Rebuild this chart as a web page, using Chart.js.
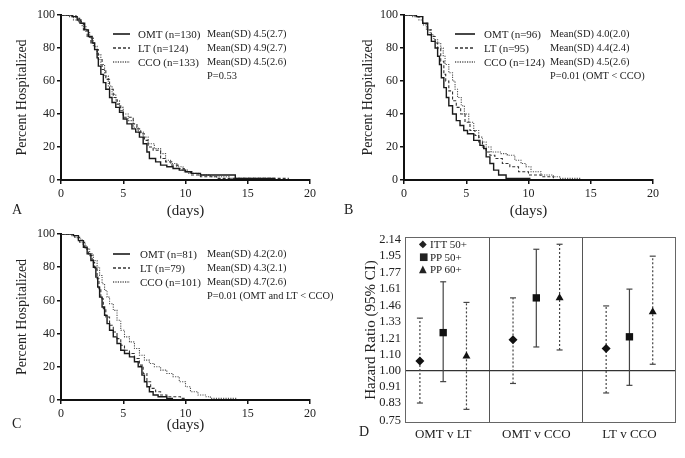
<!DOCTYPE html>
<html>
<head>
<meta charset="utf-8">
<script src="https://cdn.jsdelivr.net/npm/chart.js@4/dist/chart.umd.min.js"></script>
<style>
  body { margin: 0; background: #fff; }
  #page { position: relative; width: 685px; height: 458px; overflow: hidden; font-family: 'Liberation Serif', serif; color: #222; }
  .panel { position: absolute; }
  .txt { position: absolute; white-space: nowrap; line-height: 14px; font-size: 11px; }
  .letter { position: absolute; font-size: 14px; line-height: 14px; }
  .sample { position: absolute; }
</style>
</head>
<body>
<div id="page">
  <div class="panel" style="left:0;top:0;width:340px;height:220px"><canvas id="chartA"></canvas></div>
  <div class="panel" style="left:340px;top:0;width:345px;height:220px"><canvas id="chartB"></canvas></div>
  <div class="panel" style="left:0;top:220px;width:340px;height:220px"><canvas id="chartC"></canvas></div>
  <div class="panel" style="left:340px;top:220px;width:345px;height:238px"><canvas id="chartD"></canvas></div>
</div>
<script>
const FONT = 'Liberation Serif';

// Kaplan-Meier style curves: days and percent still hospitalized
const groups = ['OMT', 'LT', 'CCO'];
const dayTicks = [0, 5, 10, 15, 20];
const pctTicks = [0, 20, 40, 60, 80, 100];

// panel A
const aOmtDays = [0, 0.9, 1.3, 1.6, 1.9, 2.2, 2.5, 2.7, 2.9, 3.0, 3.2, 3.4, 3.6, 3.9, 4.1, 4.4, 4.7, 5.0, 5.3, 5.7, 6.0, 6.3, 6.6, 6.9, 7.1, 7.6, 8.0, 8.5, 9.0, 9.5, 10.0, 10.5, 11.2, 14.0, 17.2];
const aOmtPct  = [100, 99, 97, 95, 91, 87, 83, 79, 74, 69, 64, 59, 55, 50, 47, 44, 41, 37, 34, 31, 29, 26, 22, 17, 13, 11, 9, 8, 7, 6, 5, 4, 3, 1, 1];
const aLtDays  = [0, 1.2, 1.5, 1.8, 2.1, 2.4, 2.7, 3.0, 3.3, 3.6, 3.9, 4.2, 4.5, 4.8, 5.0, 5.8, 6.1, 6.4, 6.7, 7.0, 7.4, 8.0, 8.4, 8.9, 9.4, 9.9, 10.4, 11.2, 12.5, 18.3];
const aLtPct   = [100, 98, 95, 91, 87, 83, 79, 73, 67, 61, 55, 50, 46, 42, 38, 34, 31, 28, 24, 20, 18, 13, 11, 9, 7, 5, 3, 2, 1, 1];
const aCcoDays = [0, 0.6, 1.0, 1.4, 1.7, 2.0, 2.3, 2.6, 2.9, 3.2, 3.5, 3.8, 4.1, 4.4, 4.7, 5.0, 5.4, 5.8, 6.2, 6.6, 7.0, 7.5, 8.0, 8.4, 8.8, 9.3, 9.8, 10.2, 11.0, 12.0, 13.5, 17.0];
const aCcoPct  = [100, 99, 97, 96, 93, 90, 86, 81, 76, 70, 63, 57, 52, 48, 44, 40, 36, 32, 29, 26, 22, 19, 16, 12, 10, 8, 6, 4, 3, 2, 1, 1];

// panel B
const bOmtDays = [0, 1.0, 1.5, 1.9, 2.2, 2.5, 2.7, 2.85, 3.0, 3.2, 3.4, 3.6, 3.9, 4.2, 4.5, 4.8, 5.1, 5.6, 6.1, 6.4, 6.6, 6.9, 7.2, 7.6, 8.2, 10.1];
const bOmtPct  = [100, 99, 95, 88, 84, 80, 75, 70, 62, 56, 50, 45, 40, 36, 33, 30, 28, 24, 21, 19, 14, 10, 6, 3, 1, 0];
const bLtDays  = [0, 1.1, 1.5, 1.9, 2.2, 2.5, 2.7, 2.95, 3.2, 3.35, 3.6, 3.9, 4.2, 4.55, 4.9, 5.3, 5.7, 6.0, 6.3, 6.6, 6.9, 7.3, 7.9, 8.5, 9.2, 10.0, 11.0, 12.0];
const bLtPct   = [100, 99, 95, 91, 87, 83, 80, 72, 64, 60, 54, 48, 44, 40, 35, 30, 27, 23, 20, 17, 15, 13, 10, 8, 5, 3, 2, 1];
const bCcoDays = [0, 0.7, 1.2, 1.5, 1.8, 2.1, 2.4, 2.7, 2.95, 3.15, 3.3, 3.6, 3.9, 4.1, 4.3, 4.6, 4.85, 5.2, 5.6, 6.0, 6.3, 6.6, 7.0, 7.8, 8.3, 8.9, 9.4, 9.8, 10.2, 11.0, 12.0, 12.5, 14.2];
const bCcoPct  = [100, 99, 97, 94, 91, 88, 85, 83, 80, 75, 70, 65, 60, 55, 50, 45, 40, 35, 30, 26, 23, 20, 17, 16, 15, 12, 10, 8, 5, 3, 2, 1, 1];

// panel C
const cOmtDays = [0, 1.0, 1.4, 1.8, 2.1, 2.4, 2.6, 2.8, 2.95, 3.1, 3.3, 3.5, 3.7, 3.9, 4.2, 4.5, 4.8, 5.1, 5.5, 5.9, 6.2, 6.5, 6.7, 6.9, 7.1, 7.4, 7.8, 8.5, 9.0];
const cOmtPct  = [100, 99, 96, 92, 88, 84, 80, 74, 68, 62, 56, 51, 46, 42, 38, 34, 30, 28, 26, 23, 20, 15, 11, 8, 5, 3, 2, 1, 1];
const cLtDays  = [0, 1.1, 1.5, 1.9, 2.2, 2.5, 2.7, 2.9, 3.05, 3.2, 3.4, 3.6, 3.9, 4.2, 4.5, 4.8, 5.1, 5.5, 5.9, 6.3, 6.6, 6.9, 7.2, 7.6, 8.0, 8.5, 9.0, 9.6, 10.0];
const cLtPct   = [100, 98, 95, 91, 87, 83, 79, 73, 67, 61, 55, 50, 45, 41, 37, 33, 30, 28, 25, 21, 16, 11, 7, 5, 3, 2, 2, 1, 1];
const cCcoDays = [0, 0.8, 1.3, 1.7, 2.0, 2.3, 2.6, 2.9, 3.1, 3.3, 3.5, 3.7, 3.9, 4.2, 4.5, 4.8, 5.1, 5.5, 5.9, 6.3, 6.7, 7.1, 7.5, 8.0, 8.5, 9.0, 9.5, 10.0, 10.4, 11.0, 11.6, 12.0, 14.1];
const cCcoPct  = [100, 99, 97, 94, 91, 88, 84, 80, 75, 70, 66, 62, 58, 54, 48, 42, 38, 35, 31, 27, 24, 22, 20, 18, 16, 14, 11, 8, 5, 3, 2, 1, 1];

// legend texts
const aN = [130, 124, 133], aMean = ['4.5(2.7)', '4.9(2.7)', '4.5(2.6)'], aP = 'P=0.53';
const bN = [96, 95, 124],   bMean = ['4.0(2.0)', '4.4(2.4)', '4.5(2.6)'], bP = 'P=0.01 (OMT < CCO)';
const cN = [81, 79, 101],   cMean = ['4.2(2.0)', '4.3(2.1)', '4.7(2.6)'], cP = 'P=0.01 (OMT and LT < CCO)';

// panel D: hazard ratios with 95% CI
const comparisons = ['OMT v LT', 'OMT v CCO', 'LT v CCO'];
const hrTicks = [0.75, 0.83, 0.91, 1.00, 1.10, 1.21, 1.33, 1.46, 1.61, 1.77, 1.95, 2.14];
const hrNames = ['ITT 50+', 'PP 50+', 'PP 60+'];
const itt50 = [1.06, 1.20, 1.14], itt50Lo = [0.83, 0.93, 0.88], itt50Hi = [1.36, 1.53, 1.46];
const pp50  = [1.25, 1.53, 1.22], pp50Lo  = [0.94, 1.15, 0.92], pp50Hi  = [1.68, 2.03, 1.61];
const pp60  = [1.09, 1.53, 1.41], pp60Lo  = [0.80, 1.13, 1.04], pp60Hi  = [1.49, 2.09, 1.95];

const lineStyles = [
  { color: '#1a1a1a', width: 1.4, dash: [] },
  { color: '#333', width: 1.1, dash: [3, 2] },
  { color: '#555', width: 1.1, dash: [1.2, 1.2] }
];

function pts(days, pct) {
  return days.map((d, i) => ({ x: d, y: pct[i] }));
}

function kmChart(id, curves, cfg) {
  const axisBase = {
    grid: { drawOnChartArea: false, tickLength: 4, color: '#111', lineWidth: 1.5 },
    border: { color: '#111', width: 2 }
  };
  new Chart(document.getElementById(id), {
    type: 'line',
    data: {
      datasets: curves.map((c, i) => ({
        label: groups[i],
        data: pts(c[0], c[1]),
        stepped: true,
        borderColor: lineStyles[i].color,
        borderWidth: lineStyles[i].width,
        borderDash: lineStyles[i].dash,
        pointRadius: 0,
        fill: false
      }))
    },
    options: {
      responsive: true,
      maintainAspectRatio: false,
      animation: false,
      layout: { padding: cfg.pad },
      plugins: { legend: { display: false }, tooltip: { enabled: false } },
      scales: {
        x: {
          ...axisBase,
          type: 'linear', min: 0, max: 20,
          afterBuildTicks: s => { s.ticks = dayTicks.map(v => ({ value: v })); },
          ticks: { font: { family: FONT, size: 12 }, color: '#222', padding: 3, maxRotation: 0 },
          title: { display: true, text: '(days)', color: '#222', font: { family: FONT, size: 15 }, padding: { top: 0, bottom: cfg.xTitlePad } },
          afterFit: s => { s.height = 40; }
        },
        y: {
          ...axisBase,
          min: 0, max: 100,
          afterBuildTicks: s => { s.ticks = pctTicks.map(v => ({ value: v })); },
          ticks: { font: { family: FONT, size: 12 }, color: '#222', padding: 2 },
          title: { display: true, text: 'Percent Hospitalized', color: '#222', font: { family: FONT, size: 14 }, padding: { top: cfg.yTitlePad, bottom: 0 } },
          afterFit: s => { s.width = cfg.yw; }
        }
      }
    }
  });
}

kmChart('chartA', [[aOmtDays, aOmtPct], [aLtDays, aLtPct], [aCcoDays, aCcoPct]],
  { pad: { top: 15, right: 30, left: 0, bottom: 0 }, yw: 61, yTitlePad: 13.6, xTitlePad: 0 });
kmChart('chartB', [[bOmtDays, bOmtPct], [bLtDays, bLtPct], [bCcoDays, bCcoPct]],
  { pad: { top: 15, right: 32, left: 0, bottom: 0 }, yw: 64, yTitlePad: 19.6, xTitlePad: 0 });
kmChart('chartC', [[cOmtDays, cOmtPct], [cLtDays, cLtPct], [cCcoDays, cCcoPct]],
  { pad: { top: 14, right: 30, left: 0, bottom: 0 }, yw: 61, yTitlePad: 13.6, xTitlePad: 6 });

// hazard ratio panel
const hrMin = 0.739, hrMax = 2.18;
const hrSeries = [
  { hr: itt50, lo: itt50Lo, hi: itt50Hi, style: 'rectRot', radius: 4.5, dash: [2, 2], off: 0.25 },
  { hr: pp50,  lo: pp50Lo,  hi: pp50Hi,  style: 'rect',    radius: 5.2, dash: [],     off: 0.5 },
  { hr: pp60,  lo: pp60Lo,  hi: pp60Hi,  style: 'triangle', radius: 4.6, dash: [2, 2], off: 0.75 }
];

const markerSets = hrSeries.map((s, k) => ({
  label: hrNames[k],
  data: comparisons.map((c, i) => ({ x: i + s.off, y: s.hr[i] })),
  showLine: false,
  pointStyle: s.style,
  pointRadius: s.radius,
  backgroundColor: '#111',
  borderColor: '#111',
  borderWidth: 0
}));
const ciSets = [];
hrSeries.forEach(s => {
  comparisons.forEach((c, i) => {
    ciSets.push({
      data: [{ x: i + s.off, y: s.lo[i] }, { x: i + s.off, y: s.hi[i] }],
      borderColor: '#444',
      borderWidth: 1.2,
      borderDash: s.dash,
      pointStyle: 'line',
      pointRadius: 3,
      pointBorderColor: '#444',
      pointBorderWidth: 1.2
    });
  });
});

const framePlugin = {
  id: 'frame',
  afterDatasetsDraw(chart) {
    const { ctx, chartArea: a } = chart;
    ctx.save();
    ctx.strokeStyle = '#666';
    ctx.lineWidth = 1;
    ctx.strokeRect(a.left + 0.5, a.top + 0.5, a.right - a.left - 1, a.bottom - a.top - 1);
    ctx.restore();
  }
};

new Chart(document.getElementById('chartD'), {
  type: 'line',
  data: { datasets: [...markerSets, ...ciSets] },
  options: {
    responsive: true,
    maintainAspectRatio: false,
    animation: false,
    layout: { padding: { top: 17, right: 9, left: 0, bottom: 0 } },
    plugins: { legend: { display: false }, tooltip: { enabled: false } },
    scales: {
      x: {
        type: 'linear', min: 0.09, max: 3,
        afterBuildTicks: s => { s.ticks = [0.5, 1, 1.5, 2, 2.5].map(v => ({ value: v })); },
        ticks: {
          font: { family: FONT, size: 13 }, color: '#222', padding: 4, maxRotation: 0, autoSkip: false,
          callback: v => Number.isInteger(v) ? '' : comparisons[Math.floor(v)]
        },
        grid: { drawTicks: false, lineWidth: 1, color: c => (c.tick && Number.isInteger(c.tick.value)) ? '#555' : 'transparent' },
        border: { display: false },
        afterFit: s => { s.height = 35; }
      },
      y: {
        type: 'logarithmic', min: hrMin, max: hrMax, bounds: 'data',
        afterBuildTicks: s => { s.ticks = hrTicks.map(v => ({ value: v })); s.min = hrMin; s.max = hrMax; },
        ticks: { font: { family: FONT, size: 12.5 }, color: '#222', padding: 4, autoSkip: false, callback: v => v.toFixed(2) },
        grid: { drawTicks: false, lineWidth: 1.3, color: c => (c.tick && c.tick.value === 1) ? '#333' : 'transparent' },
        border: { display: false },
        title: { display: true, text: 'Hazard Ratio (95% CI)', color: '#222', font: { family: FONT, size: 15 }, padding: { top: 22, bottom: 0 } },
        afterFit: s => { s.width = 65; }
      }
    }
  },
  plugins: [framePlugin]
});

// html legends and panel letters
const page = document.getElementById('page');
function addText(txt, left, top, cls, size) {
  const d = document.createElement('div');
  d.className = cls || 'txt';
  d.textContent = txt;
  d.style.left = left + 'px';
  d.style.top = top + 'px';
  if (size) d.style.fontSize = size + 'px';
  page.appendChild(d);
  return d;
}
function addSample(style, left, y, width) {
  const ns = 'http://www.w3.org/2000/svg';
  const svg = document.createElementNS(ns, 'svg');
  svg.setAttribute('width', width);
  svg.setAttribute('height', 4);
  svg.setAttribute('class', 'sample');
  svg.style.left = left + 'px';
  svg.style.top = (y - 2) + 'px';
  const ln = document.createElementNS(ns, 'line');
  ln.setAttribute('x1', 0); ln.setAttribute('x2', width);
  ln.setAttribute('y1', 2); ln.setAttribute('y2', 2);
  ln.setAttribute('stroke', style.color);
  ln.setAttribute('stroke-width', style.width + 0.2);
  if (style.dash.length) ln.setAttribute('stroke-dasharray', style.dash.join(' '));
  svg.appendChild(ln);
  page.appendChild(svg);
}
function kmLegend(ns, means, p, L) {
  groups.forEach((g, i) => {
    const y = L.y + i * 14;
    addSample(lineStyles[i], L.sx, y, L.sw);
    addText(g + ' (n=' + ns[i] + ')', L.tx, y - 7);
    addText('Mean(SD) ' + means[i], L.mx, y - 7, 'txt', 10.4);
  });
  addText(p, L.mx, L.y + 3 * 14 - 7, 'txt', 10.4);
}
kmLegend(aN, aMean, aP, { y: 34, sx: 113, sw: 17, tx: 138, mx: 207 });
kmLegend(bN, bMean, bP, { y: 34, sx: 455, sw: 20, tx: 484, mx: 550 });
kmLegend(cN, cMean, cP, { y: 254, sx: 113, sw: 17, tx: 140, mx: 207 });

const hrGlyphs = ['\u25C6', '\u25A0', '\u25B2'];
hrNames.forEach((n, i) => {
  const y = 244 + i * 12.5;
  const g = addText(hrGlyphs[i], 419, y - 7, 'txt', 10);
  g.style.fontFamily = 'DejaVu Sans';
  addText(n, 430, y - 7, 'txt', 11);
});

addText('A', 12, 203, 'letter');
addText('B', 344, 203, 'letter');
addText('C', 12, 417, 'letter');
addText('D', 359, 425, 'letter');
</script>
</body>
</html>
